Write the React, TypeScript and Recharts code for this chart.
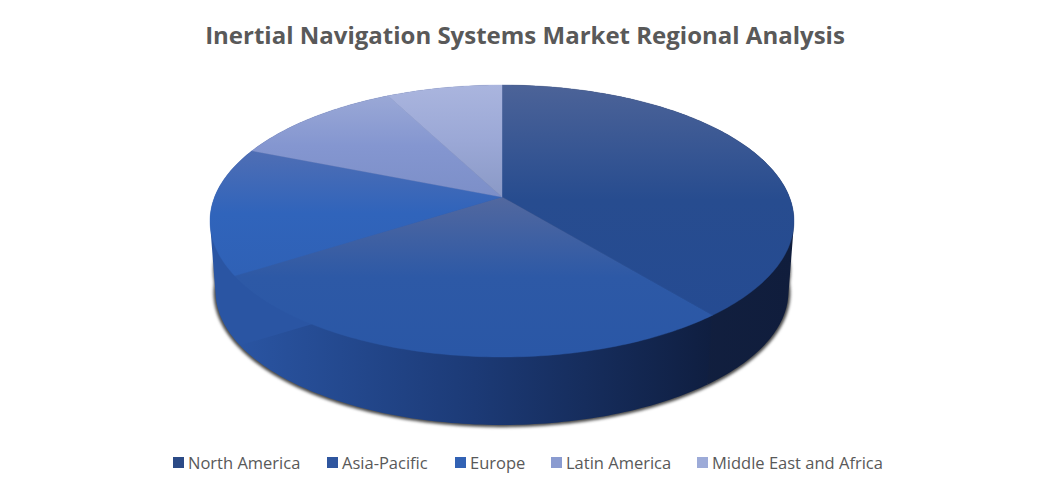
import { Legend, Pie, PieChart } from 'recharts';

const categories = ['North America', 'Asia-Pacific', 'Europe', 'Latin America', 'Middle East and Africa'];
const shares = [39.1, 26.8, 15.2, 11.3, 7.6];

const data = categories.map((name, i) => ({ name, value: shares[i] }));

// top face: vertical gradient per slice
const topStops = [
  ['#4c6398', '#274c8f', '#254b92'],
  ['#52689f', '#2d59a6', '#2a57a6'],
  ['#4f6eb4', '#3064bb', '#2f61b6'],
  ['#9aa8d6', '#8496d0', '#7c8fc8'],
  ['#aab5de', '#9ba8d6', '#8a99c6'],
];
// side wall: horizontal gradient per slice
const wallStops = [
  ['#12203f', '#122040', '#101d3c'],
  ['#2a55a3', '#1c3a76', '#0f1e40'],
  ['#2a55a3', '#2a55a3', '#2a55a3'],
  ['#3b4f86', '#3b4f86', '#3b4f86'],
  ['#3b4f86', '#3b4f86', '#3b4f86'],
];
const legendFills = ['#2b4a86', '#2f569f', '#3262b4', '#8a9bd0', '#9dabd8'];
const legendLeft = [173, 327, 455, 551, 697];

// tilt of the disc and its perspective
const TILT = 0.4585;
const PERSP = 0.1765;
// bottom rim of the disc
const DEPTH = 71;
const BOTTOM_SCALE = 0.981;
const WALL_LEVELS = 36;

type Pt = number[];

function project(cx: number, cy: number, r: number, deg: number, scale = 1, dy = 0): Pt {
  const rad = (deg * Math.PI) / 180;
  const u = Math.cos(rad);
  const v = Math.sin(rad);
  const w = 1 + PERSP * v;
  return [cx + (scale * r * u) / w, cy + dy - (scale * r * TILT * v) / w];
}

function arc(cx: number, cy: number, r: number, from: number, to: number, scale = 1, dy = 0) {
  const n = Math.max(2, Math.ceil(Math.abs(from - to)));
  const pts: Pt[] = [];
  for (let i = 0; i <= n; i++) {
    pts.push(project(cx, cy, r, from + ((to - from) * i) / n, scale, dy));
  }
  return pts;
}

const toPath = (pts: Pt[]) => pts.map((p) => `${p[0].toFixed(2)} ${p[1].toFixed(2)}`).join('L');

function TopFace(props: any) {
  const { cx, cy, outerRadius, startAngle, endAngle, name } = props;
  const i = categories.indexOf(name);
  const id = `top-${i}`;
  const pts = arc(cx, cy, outerRadius, startAngle, endAngle);
  return (
    <g>
      <defs>
        <linearGradient id={id} x1="0" y1="0" x2="0" y2="1">
          <stop offset="0" stopColor={topStops[i][0]} />
          <stop offset="0.5" stopColor={topStops[i][1]} />
          <stop offset="1" stopColor={topStops[i][2]} />
        </linearGradient>
      </defs>
      <path d={`M${cx} ${cy}L${toPath(pts)}Z`} fill={`url(#${id})`} stroke={`url(#${id})`} strokeWidth={0.4} />
    </g>
  );
}

function WallFace(props: any) {
  const { cx, cy, outerRadius, startAngle, endAngle, name } = props;
  const i = categories.indexOf(name);
  const id = `wall-${i}`;
  const upper = arc(cx, cy, outerRadius, startAngle, endAngle);
  const lower = arc(cx, cy, outerRadius, startAngle, endAngle, BOTTOM_SCALE, DEPTH);
  const xs = upper.concat(lower).map((p) => p[0]);
  // the slice repeated at every height of the disc, which fills the wall and its silhouette
  let d = '';
  for (let k = 0; k <= WALL_LEVELS; k++) {
    const t = k / WALL_LEVELS;
    const dy = DEPTH * t;
    const level = arc(cx, cy, outerRadius, startAngle, endAngle, 1 + (BOTTOM_SCALE - 1) * t, dy);
    d += `M${cx} ${(cy + dy).toFixed(2)}L${toPath(level)}Z`;
  }
  return (
    <g>
      <defs>
        <linearGradient id={id} gradientUnits="userSpaceOnUse" x1={Math.min(...xs)} y1="0" x2={Math.max(...xs)} y2="0">
          <stop offset="0" stopColor={wallStops[i][0]} />
          <stop offset="0.5" stopColor={wallStops[i][1]} />
          <stop offset="1" stopColor={wallStops[i][2]} />
        </linearGradient>
      </defs>
      <path d={d} fill={`url(#${id})`} />
    </g>
  );
}

function ShadowFace(props: any) {
  const { cx, cy, outerRadius, startAngle, endAngle } = props;
  const low = arc(cx, cy, outerRadius, startAngle, endAngle, BOTTOM_SCALE * 1.006, DEPTH + 1);
  const mid = arc(cx, cy, outerRadius, startAngle, endAngle, 0.988, 50);
  return (
    <g>
      <path d={`M${cx} ${cy + DEPTH}L${toPath(low)}Z`} fill="#484848" stroke="#484848" strokeWidth={0.5} />
      <path d={`M${cx} ${cy + 50}L${toPath(mid)}Z`} fill="#484848" stroke="#484848" strokeWidth={0.5} />
    </g>
  );
}

function LegendRow({ payload }: any) {
  const seen: any[] = [];
  (payload ?? []).forEach((entry: any) => {
    if (!seen.some((s) => s.value === entry.value)) seen.push(entry);
  });
  return (
    <div style={{ position: 'relative', height: 24 }}>
      {seen.map((entry: any) => {
        const i = categories.indexOf(entry.value);
        return (
          <div key={entry.value} style={{ position: 'absolute', left: legendLeft[i], top: 0, display: 'flex', alignItems: 'center', whiteSpace: 'nowrap' }}>
            <span style={{ width: 11, height: 11, marginRight: 4, background: legendFills[i] }} />
            <span style={{ fontSize: 16.5, color: '#595959', fontFamily: 'Open Sans' }}>{entry.value}</span>
          </div>
        );
      })}
    </div>
  );
}

export default function App() {
  const pieProps = {
    data,
    dataKey: 'value',
    nameKey: 'name',
    cx: 502,
    cy: 197,
    outerRadius: 287.4,
    startAngle: 90,
    endAngle: -270,
    isAnimationActive: false,
    stroke: 'none',
  };
  return (
    <div style={{ position: 'absolute', left: 0, top: 0, width: 1049, height: 494, background: '#fff', overflow: 'hidden' }}>
      <style>{'.pie-shadow { filter: blur(1.8px); }'}</style>
      <div style={{ position: 'absolute', left: 0, right: 0, top: 18, textAlign: 'center', fontFamily: 'Open Sans', fontWeight: 700, fontSize: 24, color: '#595959', whiteSpace: 'nowrap', paddingLeft: 1 }}>
        Inertial Navigation Systems Market Regional Analysis
      </div>
      <PieChart width={1049} height={494} margin={{ top: 0, right: 0, bottom: 0, left: 0 }}>
        <Pie {...pieProps} className="pie-shadow" legendType="none" shape={ShadowFace} />
        <Pie {...pieProps} legendType="none" shape={WallFace} />
        <Pie {...pieProps} shape={TopFace} />
        <Legend content={<LegendRow />} verticalAlign="bottom" wrapperStyle={{ left: 0, right: 0, width: 1049, bottom: 19 }} />
      </PieChart>
    </div>
  );
}
